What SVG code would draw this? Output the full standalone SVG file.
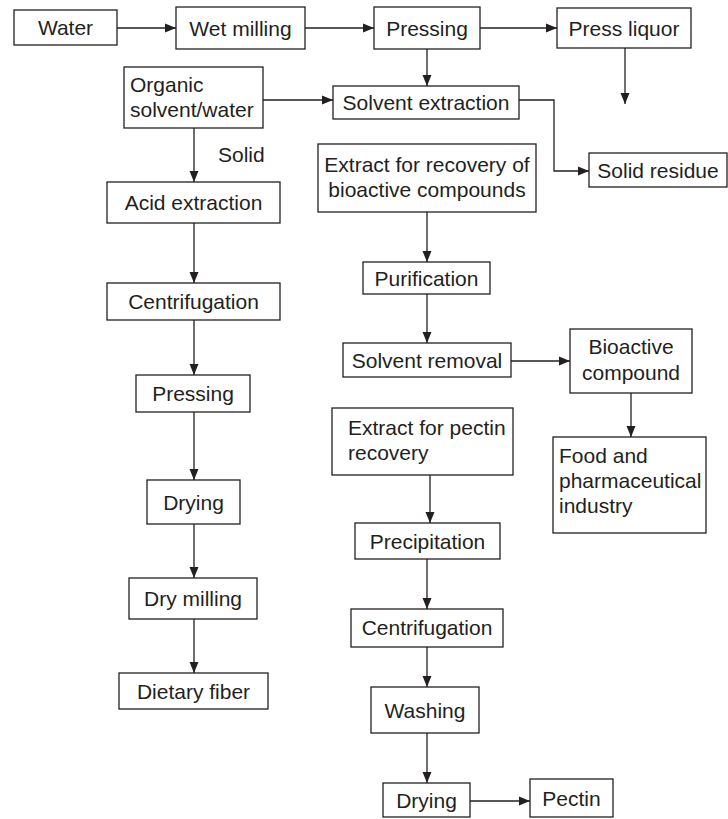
<svg xmlns="http://www.w3.org/2000/svg" width="728" height="819" viewBox="0 0 728 819">
<defs>
<style>
rect{fill:#fff;stroke:#231f20;stroke-width:1.3}
text{font-family:"Liberation Sans",Arial,sans-serif;font-size:21px;fill:#231f20}
.c{text-anchor:middle}
#connectors path{fill:none;stroke:#231f20;stroke-width:1.3;marker-end:url(#ah)}
</style>
<marker id="ah" markerUnits="userSpaceOnUse" markerWidth="11" markerHeight="10" refX="11" refY="5" orient="auto">
<path d="M0,0.5 L11,5 L0,9.5 Z" fill="#231f20"/>
</marker>
</defs>
<rect x="0" y="0" width="728" height="819" style="fill:#fff;stroke:none"/>
<g id="connectors">
<path d="M117,28 H176"/>
<path d="M305,28 H374"/>
<path d="M480,28 H557"/>
<path d="M625,48 V104"/>
<path d="M427,49 V86"/>
<path d="M263,100 H333"/>
<path d="M519,100 H554 V171 H589"/>
<path d="M194,128 V182"/>
<path d="M194,223 V283"/>
<path d="M194,320 V375"/>
<path d="M194,412 V480"/>
<path d="M194,524 V578"/>
<path d="M194,619 V673"/>
<path d="M427,212 V262"/>
<path d="M427,294 V343"/>
<path d="M511,361 H570"/>
<path d="M631,393 V437"/>
<path d="M430,475 V523"/>
<path d="M427,559 V609"/>
<path d="M427,647 V687"/>
<path d="M427,733 V783"/>
<path d="M470,801 H530"/>
<text x="218" y="162" style="marker-end:none">Solid</text>
</g>
<g id="water"><rect x="14" y="10" width="103" height="35"/><text class="c" x="65.5" y="35">Water</text></g>
<g id="wet-milling"><rect x="176" y="7" width="129" height="42"/><text class="c" x="240.5" y="35.5">Wet milling</text></g>
<g id="pressing-top"><rect x="374" y="7" width="106" height="42"/><text class="c" x="427" y="35.5">Pressing</text></g>
<g id="press-liquor"><rect x="557" y="8" width="134" height="40"/><text class="c" x="624" y="35.5">Press liquor</text></g>
<g id="organic-solvent"><rect x="124" y="67" width="139" height="61"/><text x="130" y="92">Organic</text><text x="130" y="117">solvent/water</text></g>
<g id="solvent-extraction"><rect x="333" y="86" width="186" height="33"/><text class="c" x="426" y="110">Solvent extraction</text></g>
<g id="solid-residue"><rect x="589" y="153" width="138" height="34"/><text class="c" x="658" y="177.5">Solid residue</text></g>
<g id="extract-bioactive"><rect x="318" y="144" width="218" height="68"/><text class="c" x="427" y="172">Extract for recovery of</text><text class="c" x="427" y="197">bioactive compounds</text></g>
<g id="acid-extraction"><rect x="107" y="182" width="173" height="41"/><text class="c" x="193.5" y="210">Acid extraction</text></g>
<g id="centrifugation-left"><rect x="107" y="283" width="173" height="37"/><text class="c" x="193.5" y="309">Centrifugation</text></g>
<g id="pressing-left"><rect x="136" y="375" width="114" height="37"/><text class="c" x="193" y="401">Pressing</text></g>
<g id="drying-left"><rect x="147" y="480" width="93" height="44"/><text class="c" x="193.5" y="509.5">Drying</text></g>
<g id="dry-milling"><rect x="129" y="578" width="128" height="41"/><text class="c" x="193" y="606">Dry milling</text></g>
<g id="dietary-fiber"><rect x="119" y="673" width="149" height="36"/><text class="c" x="193.5" y="698.5">Dietary fiber</text></g>
<g id="purification"><rect x="363" y="262" width="127" height="32"/><text class="c" x="426.5" y="285.5">Purification</text></g>
<g id="solvent-removal"><rect x="343" y="343" width="168" height="34"/><text class="c" x="427" y="367.5">Solvent removal</text></g>
<g id="bioactive-compound"><rect x="570" y="329" width="122" height="64"/><text class="c" x="631" y="354">Bioactive</text><text class="c" x="631" y="380">compound</text></g>
<g id="food-pharma"><rect x="553" y="437" width="153" height="96"/><text x="559" y="463">Food and</text><text x="559" y="488">pharmaceutical</text><text x="559" y="513">industry</text></g>
<g id="extract-pectin"><rect x="332" y="408" width="181" height="67"/><text x="348" y="435">Extract for pectin</text><text x="348" y="460">recovery</text></g>
<g id="precipitation"><rect x="355" y="523" width="145" height="36"/><text class="c" x="427.5" y="548.5">Precipitation</text></g>
<g id="centrifugation-right"><rect x="351" y="609" width="152" height="38"/><text class="c" x="427" y="635">Centrifugation</text></g>
<g id="washing"><rect x="371" y="687" width="108" height="46"/><text class="c" x="425" y="717.5">Washing</text></g>
<g id="drying-right"><rect x="383" y="783" width="87" height="34"/><text class="c" x="426.5" y="807.5">Drying</text></g>
<g id="pectin"><rect x="530" y="779" width="83" height="38"/><text class="c" x="571.5" y="805.5">Pectin</text></g>
</svg>
